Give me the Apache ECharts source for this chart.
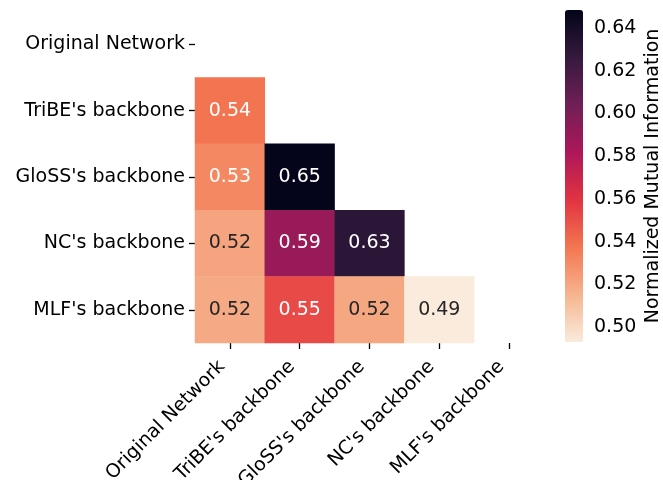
<!DOCTYPE html>
<html>
<head>
<meta charset="utf-8">
<script src="https://cdn.jsdelivr.net/npm/echarts@6/dist/echarts.min.js"></script>
<style>
html,body{margin:0;padding:0;background:#fff;}
#chart{width:663px;height:480px;}
</style>
</head>
<body>
<div id="chart"></div>
<script>
const rowLabels = ["Original Network", "TriBE's backbone", "GloSS's backbone", "NC's backbone", "MLF's backbone"];
const colLabels = ["Original Network", "TriBE's backbone", "GloSS's backbone", "NC's backbone", "MLF's backbone"];
// lower-triangle values: [rowIndex, colIndex, value]
const cellRows = [1, 2, 2, 3, 3, 3, 4, 4, 4, 4];
const cellCols = [0, 0, 1, 0, 1, 2, 0, 1, 2, 3];
const cellValues = [0.538, 0.531, 0.648, 0.521, 0.589, 0.630, 0.519, 0.552, 0.520, 0.493];
const colorbarTicks = [0.50, 0.52, 0.54, 0.56, 0.58, 0.60, 0.62, 0.64];
const colorMin = 0.493, colorMax = 0.6484;
const rocketR = ['#faebdd','#f6b48f','#f37651','#e13342','#ad1759','#701f57','#35193e','#03051a'];

const FONT = 'DejaVu Sans';
const FS = 19;
const data = cellValues.map((v, i) => ({
  value: [cellCols[i], cellRows[i], v],
  label: { color: v >= 0.525 ? '#ffffff' : '#262626' }
}));

const chart = echarts.init(document.getElementById('chart'), null, {renderer: 'canvas'});
chart.setOption({
  animation: false,
  textStyle: { fontFamily: FONT },
  grid: [
    { left: 195, top: 11, width: 349, height: 332, containLabel: false, outerBoundsMode: 'none' },
    { left: 565, top: 10, width: 18, height: 332, containLabel: false, outerBoundsMode: 'none' }
  ],
  xAxis: [
    {
      type: 'category', data: colLabels, gridIndex: 0, position: 'bottom',
      axisLine: { show: false },
      axisTick: { show: true, alignWithLabel: true, length: 6, lineStyle: { color: '#000', width: 1.3 } },
      axisLabel: { rotate: 45, interval: 0, margin: 13, padding: [0, 11, 0, 0], color: '#000', fontSize: FS, fontFamily: FONT },
      splitLine: { show: false }, splitArea: { show: false }
    },
    { type: 'value', gridIndex: 1, show: false, min: 0, max: 1 }
  ],
  yAxis: [
    {
      type: 'category', data: rowLabels, gridIndex: 0, inverse: true,
      axisLine: { show: false },
      axisTick: { show: true, alignWithLabel: true, length: 6, lineStyle: { color: '#000', width: 1.3 } },
      axisLabel: { interval: 0, margin: 10, color: '#000', fontSize: FS, fontFamily: FONT },
      splitLine: { show: false }, splitArea: { show: false }
    },
    {
      type: 'value', gridIndex: 1, position: 'right', min: colorMin, max: colorMax,
      axisLine: { show: false },
      splitLine: { show: false },
      axisTick: { show: true, length: 6, customValues: colorbarTicks, lineStyle: { color: '#000', width: 1.3 } },
      axisLabel: { show: true, customValues: colorbarTicks, margin: 11, color: '#000', fontSize: FS, fontFamily: FONT,
        formatter: v => v.toFixed(2) },
      name: 'Normalized Mutual Information', nameLocation: 'middle', nameRotate: 90, nameGap: 61,
      nameTextStyle: { color: '#000', fontSize: FS, fontFamily: FONT }
    }
  ],
  visualMap: {
    type: 'continuous', min: colorMin, max: colorMax, dimension: 2, seriesIndex: 0,
    orient: 'vertical', left: 565, top: 10, padding: 0,
    itemWidth: 18, itemHeight: 332, calculable: false, hoverLink: false,
    inRange: { color: rocketR }
  },
  series: [{
    type: 'heatmap', xAxisIndex: 0, yAxisIndex: 0, data: data,
    label: { show: true, fontSize: FS, fontFamily: FONT, formatter: p => p.value[2].toFixed(2) },
    itemStyle: { borderWidth: 0 },
    emphasis: { disabled: true }
  }]
});
</script>
</body>
</html>
